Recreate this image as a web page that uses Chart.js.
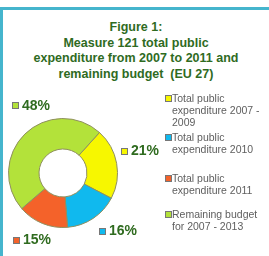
<!DOCTYPE html>
<html>
<head>
<meta charset="utf-8">
<script src="https://cdn.jsdelivr.net/npm/chart.js@4"></script>
<style>
  html, body { margin: 0; padding: 0; background: #fff; }
  #wrap { position: relative; width: 269px; height: 256px; overflow: hidden; font-family: "Liberation Sans", Arial, sans-serif; }
  #frame { position: absolute; left: 0; top: 7px; width: 269px; height: 249px; border-top: 3px solid #45b5cd; border-left: 3px solid #45b5cd; box-sizing: border-box; }
  #title { position: absolute; left: 0; top: 20px; width: 272px; text-align: center; color: #2f6b1f; font-weight: bold; font-size: 12.5px; line-height: 15.5px; white-space: pre; }
  #chart { position: absolute; left: 0; top: 0; }
  #legend { position: absolute; left: 165px; top: 92px; color: #5e5e5e; font-size: 10.5px; line-height: 12px; }
  .item { position: relative; padding-left: 7px; }
  .item i { position: absolute; left: 0; top: 3px; width: 5px; height: 5px; border: 1px solid #777; }
</style>
</head>
<body>
<div id="wrap">
  <div id="frame"></div>
  <div id="title"></div>
  <canvas id="chart" width="269" height="256"></canvas>
  <div id="legend"></div>
</div>
<script>
'use strict';

// ====== DATA ======
const titleLines = ['Figure 1:', 'Measure 121 total public', 'expenditure from 2007 to 2011 and', 'remaining budget  (EU 27)'];
const categories = [
    ['Total public', 'expenditure 2007 -', '2009'],
    ['Total public', 'expenditure 2010'],
    ['Total public', 'expenditure 2011'],
    ['Remaining budget', 'for 2007 - 2013']
];
const shares = [21, 16, 15, 48];
const sliceColors = ['#f7f700', '#10b9ee', '#f4622a', '#b3e23a'];

// ====== STYLE ======
const legendGaps = [0, 3, 17, 12];          // extra space above each legend entry
const labelNudge = [-6, -10, 3, 19];        // degrees, shift of each % label from slice middle
const labelDist = [26, 25, 19, 21];         // px beyond outer radius

document.getElementById('title').textContent = titleLines.join('\n');

document.getElementById('legend').innerHTML = categories.map((c, i) =>
    `<div class="item" style="margin-top:${legendGaps[i]}px"><i style="background:${sliceColors[i]}"></i>${c.join('<br>')}</div>`
).join('');

const pctLabels = {
    id: 'pctLabels',
    afterDraw(chart) {
        const ctx = chart.ctx;
        const arcs = chart.getDatasetMeta(0).data;
        ctx.save();
        ctx.font = 'bold 14px "Liberation Sans", Arial, sans-serif';
        ctx.textBaseline = 'middle';
        arcs.forEach((arc, i) => {
            const mid = (arc.startAngle + arc.endAngle) / 2 + labelNudge[i] * Math.PI / 180;
            const r = arc.outerRadius + labelDist[i];
            const cx = arc.x + Math.cos(mid) * r;
            const cy = arc.y + Math.sin(mid) * r;
            const text = shares[i] + '%';
            const w = ctx.measureText(text).width + 10;
            const x0 = Math.round(cx - w / 2);
            const y0 = Math.round(cy - 3);
            ctx.fillStyle = sliceColors[i];
            ctx.strokeStyle = '#777';
            ctx.lineWidth = 1;
            ctx.fillRect(x0 + 0.5, y0 + 0.5, 6, 6);
            ctx.strokeRect(x0 + 0.5, y0 + 0.5, 6, 6);
            ctx.fillStyle = '#2f6b1f';
            ctx.textAlign = 'left';
            ctx.fillText(text, x0 + 10, cy + 1);
        });
        ctx.restore();
    }
};

new Chart(document.getElementById('chart'), {
    type: 'doughnut',
    data: {
        labels: categories.map(c => c.join(' ')),
        datasets: [{
            data: shares,
            backgroundColor: sliceColors,
            borderColor: '#8f8f5f',
            borderWidth: 1
        }]
    },
    options: {
        responsive: false,
        animation: false,
        rotation: 42,
        cutout: '44%',
        layout: { padding: { left: 8, right: 151, top: 118, bottom: 28 } },
        plugins: { legend: { display: false }, tooltip: { enabled: false }, title: { display: false } }
    },
    plugins: [pctLabels]
});
</script>
</body>
</html>
